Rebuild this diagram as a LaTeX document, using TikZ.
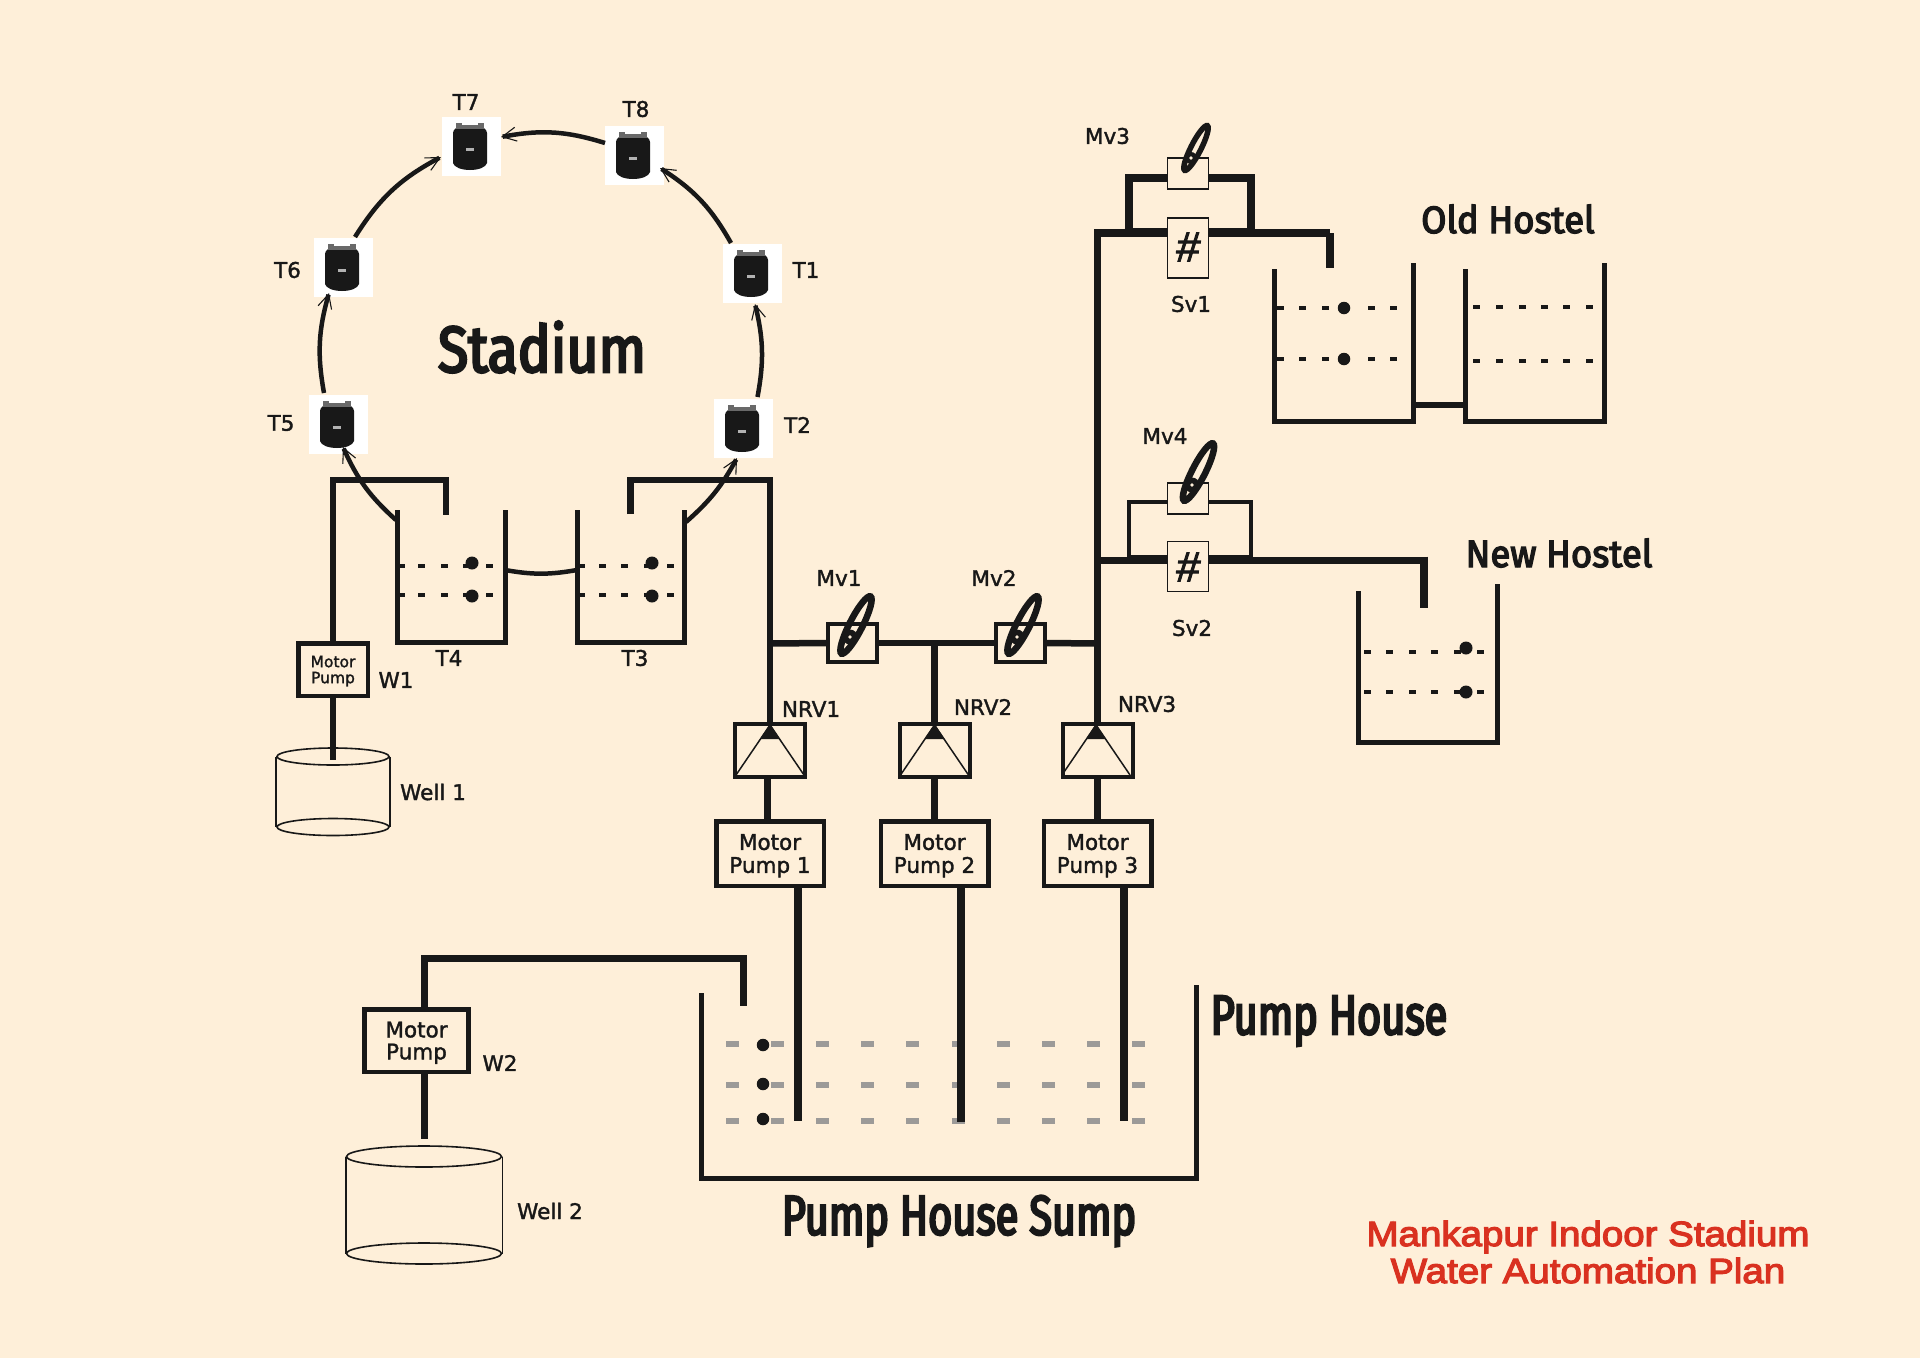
\documentclass[tikz,border=0pt]{standalone}
\usepackage{fontspec}
\usetikzlibrary{arrows.meta,shapes.geometric}
\setmainfont[FakeBold=1.6]{DejaVu Sans}
\newfontfamily\stadfont[FakeStretch=0.85,FakeBold=4]{Fira Sans}
\newfontfamily\pumpfont[FakeStretch=0.74,FakeBold=4]{Fira Sans}
\newfontfamily\hostfont[FakeStretch=0.96,FakeBold=3.5]{Fira Sans}
\newfontfamily\redfont[FakeStretch=1.1,FakeBold=3.5]{Liberation Sans}
\newfontfamily\hashfont[FakeBold=2.5,FakeSlant=0.1]{Liberation Sans}
\definecolor{bg}{HTML}{FEEFD9}
\definecolor{ink}{HTML}{181818}
\definecolor{gdash}{HTML}{9C9A98}
\definecolor{redtxt}{HTML}{D93120}
\tikzset{
  pipe/.style={draw=ink,line width=6.5pt,line join=miter},
  fatpipe/.style={draw=ink,line width=8pt,line join=miter},
  thinpipe/.style={draw=ink,line width=4pt,line join=miter},
  wall/.style={draw=ink,line width=5pt,line join=miter},
  ring/.style={draw=ink,line width=4.5pt,-{Straight Barb[length=14pt,width=14pt,line width=1.1pt]}},
  ringplain/.style={draw=ink,line width=4.5pt},
  motorbox/.style={draw=ink,fill=bg,line width=4.5pt,inner sep=0pt,align=center,text=ink,text depth=0pt},
  nrvbox/.style={draw=ink,fill=bg,line width=4pt,inner sep=0pt,minimum width=70pt,minimum height=53pt},
  valvebox/.style={draw=ink,fill=bg,line width=4pt,inner sep=0pt,minimum width=49pt,minimum height=38pt},
  smallvalve/.style={draw=ink,fill=bg,line width=1.8pt,inner sep=0pt,minimum width=41pt,text=ink},
  handle/.style={draw=ink,ellipse,inner sep=0pt,rotate=-27},
  tankbg/.style={fill=white,inner sep=0pt,minimum width=59pt,minimum height=59pt},
  lbl/.style={inner sep=0pt,text=ink,font=\fontsize{21.5}{24}\selectfont},
  wellrim/.style={draw=ink,ellipse,line width=1.6pt,inner sep=0pt},
  welledge/.style={draw=ink,line width=1.6pt},
  dot/.style={fill=ink,ellipse,inner sep=0pt,minimum width=#1,minimum height=#1},
}
\newcommand{\tankicon}[3]{%
  \node[tankbg] (#1) at (#2,#3) {};
  \begin{scope}[shift={(#2-1,#3)}]
    \fill[ink] (-17,-13) .. controls (-17,-17) and (-12,-20) .. (-8,-20) -- (8,-20) .. controls (12,-20) and (17,-17) .. (17,-13)
       -- (17,17) .. controls (16,21) and (9,24) .. (0,24) .. controls (-9,24) and (-16,21) .. (-17,17) -- cycle;
    \fill[ink!65!white] (-14,-23) rectangle (-8,-17);
    \fill[ink!65!white] (8,-23) rectangle (14,-17);
    \fill[ink!65!white] (-8,-21) rectangle (8,-17);
    \fill[gray!60] (-4,2) rectangle (4,5);
  \end{scope}}
\newcommand{\valvehandle}[6]{% name x y semilong semishort stroke
  \node[handle,line width=#6pt,minimum width=#5pt,minimum height=#4pt] (#1) at (#2,#3) {};}
\newcommand{\handleblob}[3]{%
  \fill[ink] (#1,#2) circle[radius=#3];
  \fill[bg] (#1,#2) circle[radius=1.8];}
\newcommand{\nrvmark}[2]{% node, centre x
  \draw[draw=ink,line width=1.5pt] (#2-34,775) -- (#2,725) -- (#2+34,775);
  \fill[ink] (#2,724) -- (#2+10,739) -- (#2-10,739) -- cycle;}
\newcommand{\dashrow}[2]{% y, list of x
  \foreach \dx in {#2} {\fill[ink] (\dx-3.5,#1-2) rectangle (\dx+3.5,#1+2);}}
\begin{document}
\begin{tikzpicture}[x=1pt,y=-1pt]
\useasboundingbox (0,0) rectangle (1920,1358);
\fill[bg] (0,0) rectangle (1920,1358);

% -------- stadium tanks
\tankicon{T7}{471}{146}
\tankicon{T8}{634}{155}
\tankicon{T1}{752}{273}
\tankicon{T2}{743}{428}
\tankicon{T5}{338}{424}
\tankicon{T6}{343}{267}
\coordinate (r3s) at (686,522);
\coordinate (r2e) at (737,458);
\coordinate (r2s) at (757.5,397);
\coordinate (r1e) at (755,304);
\coordinate (r1s) at (731,243);
\coordinate (r8e) at (660,168);
\coordinate (r8s) at (605,143);
\coordinate (r7e) at (501,137);
\coordinate (r6s) at (355,237);
\coordinate (r7f) at (441,157);
\coordinate (r5s) at (324,393);
\coordinate (r6e) at (329,293);
\coordinate (r4s) at (396,520);
\coordinate (r5e) at (343,447);
\coordinate (r4t) at (505,570);
\coordinate (r3t) at (577,570);
\draw[ring] (r3s) to[bend right=10] (r2e);
\draw[ring] (r2s) to[bend right=12] (r1e);
\draw[ring] (r1s) to[bend right=14] (r8e);
\draw[ring] (r8s) to[bend right=14] (r7e);
\draw[ring] (r6s) to[bend left=15] (r7f);
\draw[ring] (r5s) to[bend left=13] (r6e);
\draw[ring] (r4s) to[bend left=12] (r5e);
\draw[ringplain] (r4t) to[bend right=10] (r3t);

% -------- T3 / T4
\draw[wall] (397,510) -- (397,642) -- (505,642) -- (505,510);
\draw[wall] (577,510) -- (577,642) -- (684,642) -- (684,510);
\dashrow{566}{401,421,444,466,489}
\dashrow{595}{401,421,444,466,489}
\dashrow{566}{581,602,624,647,670}
\dashrow{595}{581,602,624,647,670}
\node[dot=13pt] (d41) at (472,563) {};
\node[dot=13pt] (d42) at (472,596) {};
\node[dot=13pt] (d31) at (652,563) {};
\node[dot=13pt] (d32) at (652,596) {};

% -------- sump level dashes (under the pipes)
\foreach \yy in {1043.7,1085,1121} {
  \foreach \k in {0,...,9} {
    \fill[gdash] (732+45.2*\k-6.5,\yy-3) rectangle (732+45.2*\k+6.5,\yy+3);
  }
}

% -------- nodes: motors, NRVs, valves
\node[motorbox,minimum width=107.5pt,minimum height=64.5pt,font=\fontsize{21.5}{23}\selectfont] (m1) at (770,853.5) {Motor\\Pump 1};
\node[motorbox,minimum width=107.5pt,minimum height=64.5pt,font=\fontsize{21.5}{23}\selectfont] (m2) at (934.5,853.5) {Motor\\Pump 2};
\node[motorbox,minimum width=107.5pt,minimum height=64.5pt,font=\fontsize{21.5}{23}\selectfont] (m3) at (1097.5,853.5) {Motor\\Pump 3};
\node[nrvbox] (nrv1) at (770,750.5) {};
\node[nrvbox] (nrv2) at (934.5,750.5) {};
\node[nrvbox] (nrv3) at (1097.5,750.5) {};
\node[valvebox] (mv1) at (852.5,643) {};
\node[valvebox] (mv2) at (1020.5,643) {};
\node[motorbox,minimum width=69.5pt,minimum height=52.5pt,font=\fontsize{15.5}{16}\selectfont] (w1) at (333,669.5) {Motor\\Pump};
\node[motorbox,minimum width=104pt,minimum height=62.5pt,font=\fontsize{21.5}{22}\selectfont] (w2) at (416.5,1040.5) {Motor\\Pump};

% -------- pipes around the pumps
\coordinate (a1) at (333,480);
\coordinate (a2) at (446,480);
\coordinate (a3) at (446,515);
\coordinate (a4) at (630.5,514);
\coordinate (a5) at (630.5,480);
\coordinate (a6) at (770,480);
\coordinate (j1) at (770,643.5);
\coordinate (j2) at (934.5,643.5);
\coordinate (j3) at (1097.5,643.5);
\coordinate (b1) at (1097.5,233);
\coordinate (b2) at (1330,233);
\coordinate (b3) at (1330,268);
\coordinate (c1) at (424,958);
\coordinate (c2) at (743.6,958);
\coordinate (c3) at (743.6,1006);
\coordinate (s1) at (797.5,1121);
\coordinate (s2) at (960.7,1122);
\coordinate (s3) at (1124,1121);
\coordinate (we1) at (333,760);
\coordinate (we2) at (424,1139);
\draw[pipe] (w1.north) -- (a1) -- (a2) -- (a3);
\draw[pipe] (a4) -- (a5) -- (a6) -- (nrv1.north);
\draw[pipe] (j1) -- (mv1.west);
\draw[pipe] (mv1.east) -- (mv2.west);
\draw[pipe] (mv2.east) -- (j3);
\draw[pipe] (j2) -- (nrv2.north);
\draw[fatpipe,line width=7.5pt] (nrv3.north) -- (b1) -- (b2);
\draw[fatpipe] (b2) -- (b3);
\draw[fatpipe,line width=7pt] ([xshift=-3pt]nrv1.south) -- ([xshift=-3pt]m1.north);
\draw[fatpipe,line width=7pt] (nrv2.south) -- (m2.north);
\draw[fatpipe,line width=7pt] (nrv3.south) -- (m3.north);
\draw[fatpipe] ([xshift=27.5pt]m1.south) -- (s1);
\draw[fatpipe] ([xshift=26.2pt]m2.south) -- (s2);
\draw[fatpipe] ([xshift=26.5pt]m3.south) -- (s3);
\draw[fatpipe,line width=7pt] ([xshift=7.5pt]w2.north) -- (c1) -- (c2) -- (c3);
\draw[fatpipe,line width=7pt] ([xshift=7.5pt]w2.south) -- (we2);

% -------- bypass Mv3 / Sv1
\coordinate (e1) at (1128.5,233);
\coordinate (e2) at (1128.5,177.5);
\coordinate (e3) at (1251,177.5);
\coordinate (e4) at (1251,233);
\draw[fatpipe] (e1) -- (e2) -- (e3) -- (e4);
\draw[fatpipe,line width=9pt] (1124.5,232) -- (1255,232);
\node[smallvalve,minimum height=31pt] (mv3) at (1188,173.5) {};
\node[smallvalve,minimum height=60pt] (sv1) at (1188,248) {};

% -------- bypass Mv4 / Sv2
\coordinate (f0) at (1097.5,560);
\coordinate (f1) at (1129,560);
\coordinate (f2) at (1129,502);
\coordinate (f3) at (1251,502);
\coordinate (f4) at (1251,560);
\coordinate (f5) at (1424,560);
\coordinate (f6) at (1424,608);
\draw[thinpipe] (f1) -- (f2) -- (f3) -- (f4);
\draw[pipe,line width=7pt] (f0) -- (f5);
\draw[fatpipe] (1424,556.5) -- (f6);
\draw[pipe,line width=9pt] (1127,559) -- (1253,559);
\node[smallvalve,minimum height=31pt] (mv4) at (1188,498.5) {};
\node[smallvalve,minimum height=50pt] (sv2) at (1188,566.5) {};
\node[text=ink,inner sep=0pt,font=\hashfont\fontsize{42}{42}\selectfont] (h1) at (1187,247) {\#};
\node[text=ink,inner sep=0pt,font=\hashfont\fontsize{42}{42}\selectfont] (h2) at (1187,567) {\#};

% -------- NRV marks
\nrvmark{nrv1}{770}
\nrvmark{nrv2}{934.5}
\nrvmark{nrv3}{1096}

% -------- valve handles
\valvehandle{hm1}{856}{625}{64}{13}{6.5}
\valvehandle{hm2}{1023}{625}{64}{13}{6.5}
\valvehandle{hm3}{1196}{148}{50}{10}{5.5}
\valvehandle{hm4}{1198.5}{472}{64}{13}{6.5}
\handleblob{850}{637}{7.5}
\handleblob{1017}{637}{7.5}
\handleblob{1191}{158}{6}
\handleblob{1192}{485}{7.5}

% -------- hostel tanks
\draw[wall] (1274,269) -- (1274,421) -- (1413,421) -- (1413,263);
\draw[wall] (1465,269) -- (1465,421) -- (1604.6,421) -- (1604.6,263);
\coordinate (g1) at (1413,405);
\coordinate (g2) at (1465,405);
\draw[pipe,line width=6pt] (g1) -- (g2);
\dashrow{308}{1280,1302.5,1325,1371,1393}
\dashrow{359}{1280,1302.5,1325,1371,1393}
\dashrow{307}{1476,1499,1522,1544,1566,1589}
\dashrow{361}{1476,1499,1522,1544,1566,1589}
\node[dot=12.5pt] (d51) at (1344,308) {};
\node[dot=12.5pt] (d52) at (1344,359) {};
\draw[wall] (1358,591) -- (1358,742) -- (1497,742) -- (1497,584);
\dashrow{652}{1367,1389,1412,1434,1457,1480}
\dashrow{692}{1367,1389,1412,1434,1457,1480}
\node[dot=13pt] (d61) at (1466,648) {};
\node[dot=13pt] (d62) at (1466,692) {};

% -------- sump
\draw[wall] (701.4,993) -- (701.4,1178) -- (1196,1178) -- (1196,985);
\node[dot=12.5pt] (d71) at (763,1045) {};
\node[dot=12.5pt] (d72) at (763,1084) {};
\node[dot=12.5pt] (d73) at (763,1119) {};

% -------- wells
\node[wellrim,minimum width=112pt,minimum height=17pt] (well1) at (333,756.5) {};
\node[wellrim,minimum width=112pt,minimum height=17pt] (well1b) at (333,827) {};
\draw[welledge] (well1.west) -- (well1b.west);
\draw[welledge] (well1.east) -- (well1b.east);
\node[wellrim,minimum width=155pt,minimum height=21pt] (well2) at (424,1156.5) {};
\node[wellrim,minimum width=155pt,minimum height=21pt] (well2b) at (424,1253.5) {};
\draw[welledge] (well2.west) -- (well2b.west);
\draw[welledge] (well2.east) -- (well2b.east);
\draw[pipe,line width=5.5pt] (w1.south) -- (we1);

% -------- labels
\node[lbl] (l7) at (466,102) {T7};
\node[lbl] (l8) at (636,109) {T8};
\node[lbl] (l1) at (806,270) {T1};
\node[lbl] (l2) at (797.5,425) {T2};
\node[lbl] (l5) at (281,423) {T5};
\node[lbl] (l6) at (287.5,270) {T6};
\node[lbl] (l4) at (449,658) {T4};
\node[lbl] (l3) at (635,658) {T3};
\node[lbl] (lw1) at (396,680) {W1};
\node[lbl] (lwl1) at (433,792) {Well 1};
\node[lbl] (lw2) at (500,1063) {W2};
\node[lbl] (lwl2) at (550,1211) {Well 2};
\node[lbl] (lm1) at (839,578) {Mv1};
\node[lbl] (lm2) at (994,578) {Mv2};
\node[lbl] (lm3) at (1107.5,136) {Mv3};
\node[lbl] (lm4) at (1165,436) {Mv4};
\node[lbl] (ls1) at (1191,304) {Sv1};
\node[lbl] (ls2) at (1192,628) {Sv2};
\node[lbl] (ln1) at (811,709) {NRV1};
\node[lbl] (ln2) at (983,707) {NRV2};
\node[lbl] (ln3) at (1147,704) {NRV3};
\node[inner sep=0pt,text=ink,font=\stadfont\fontsize{65}{65}\selectfont] (lst) at (542,347) {Stadium};
\node[inner sep=0pt,text=ink,font=\hostfont\fontsize{38}{38}\selectfont] (lold) at (1508,219) {Old Hostel};
\node[inner sep=0pt,text=ink,font=\hostfont\fontsize{38}{38}\selectfont] (lnew) at (1559,553) {New Hostel};
\node[inner sep=0pt,text=ink,font=\pumpfont\fontsize{56}{56}\selectfont] (lph) at (1329,1021) {Pump House};
\node[inner sep=0pt,text=ink,font=\pumpfont\fontsize{56}{56}\selectfont] (lps) at (959,1221) {Pump House Sump};
\node[inner sep=0pt,text=redtxt,align=center,font=\redfont\fontsize{35}{37}\selectfont] (ltitle) at (1588,1252) {Mankapur Indoor Stadium\\Water Automation Plan};
\end{tikzpicture}
\end{document}
